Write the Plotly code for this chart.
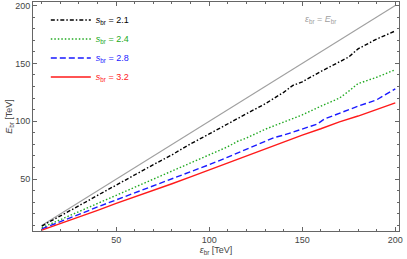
import plotly.graph_objects as go

x_ref = [10, 200]
y_ref = [10, 200]

x_a = [10, 20, 30, 40, 50, 60, 70, 80, 90, 100, 110, 120, 130, 140, 145, 150, 160, 170, 175, 180, 190, 200]
y_a = [9.5, 18, 27, 36, 45, 54, 62.5, 71, 80.5, 89, 98, 106.5, 115, 125, 131, 134, 143, 151, 155.5, 162.5, 171, 178]

x_b = [10, 20, 30, 40, 50, 60, 70, 80, 90, 100, 110, 115, 120, 130, 140, 150, 160, 170, 175, 180, 190, 200]
y_b = [8, 15, 22, 29.5, 36.5, 43.5, 50.5, 57, 64, 71, 78, 82.5, 85.5, 93, 99, 105.5, 113, 120, 126, 132.5, 138, 144.5]

x_c = [10, 20, 30, 40, 50, 60, 70, 80, 90, 100, 110, 120, 127, 130, 135, 140, 150, 158, 162, 170, 180, 190, 195, 200]
y_c = [7, 13, 19.5, 26, 32, 38, 44, 50, 56.5, 62.5, 69, 76, 81, 82.5, 86, 88, 93, 97.5, 102, 107, 113, 118.5, 123, 128]

x_d = [10, 20, 30, 40, 50, 60, 70, 80, 90, 100, 110, 120, 130, 140, 150, 160, 170, 180, 190, 200]
y_d = [6, 11.5, 17.5, 23, 29, 34.5, 40.5, 46, 52, 58, 64, 70, 76.5, 82, 88, 93.5, 99.5, 104.5, 110, 115.8]

labels = ["2.1", "2.4", "2.8", "3.2"]
colors = ["#000000", "#22aa22", "#1a1aff", "#ff1a1a"]
dashes = ["4px,2px,1.5px,2px", "1.5px,2px", "6px,3px", "solid"]

fig = go.Figure()
fig.add_trace(go.Scatter(x=x_ref, y=y_ref, mode="lines", line=dict(color="#a0a0a0", width=1.1),
                         showlegend=False, hoverinfo="skip"))
for xs, ys, lab, col, dsh in zip([x_a, x_b, x_c, x_d], [y_a, y_b, y_c, y_d], labels, colors, dashes):
    fig.add_trace(go.Scatter(
        x=xs, y=ys, mode="lines", line=dict(color=col, width=1.4, dash=dsh),
        name=f'<span style="color:{col}"><i>s</i><sub>br</sub> = {lab}</span>'))

fig.add_annotation(x=160, y=188, xref="x", yref="y", showarrow=False,
                   text="<i>ε</i><sub>br</sub> = <i>E</i><sub>br</sub>",
                   font=dict(size=9, color="#a0a0a0"))

axis_common = dict(showline=True, linecolor="#666666", linewidth=1, mirror="allticks",
                   ticks="inside", ticklen=4, tickcolor="#666666", showgrid=False, zeroline=False,
                   automargin=False,
                   tickfont=dict(size=9, color="#444444"),
                   minor=dict(dtick=10, ticks="inside", ticklen=2, tickcolor="#666666", showgrid=False))

fig.update_layout(
    width=407, height=259,
    margin=dict(l=33, r=8, t=2, b=28, autoexpand=False),
    plot_bgcolor="white", paper_bgcolor="white",
    font=dict(family="Liberation Sans", size=9, color="#444444"),
    showlegend=True,
    legend=dict(x=0.035, y=0.985, xanchor="left", yanchor="top", bgcolor="rgba(0,0,0,0)",
                font=dict(size=9), tracegroupgap=0, itemwidth=40),
    xaxis=dict(range=[5.3, 202], tickvals=[50, 100, 150, 200],
               title=dict(text="<i>ε</i><sub>br</sub> [TeV]", font=dict(size=9), standoff=0),
               **axis_common),
    yaxis=dict(range=[5.2, 203], tickvals=[50, 100, 150, 200],
               title=dict(text="<i>E</i><sub>br</sub> [TeV]", font=dict(size=9), standoff=0),
               **axis_common),
)

fig.write_html("out.html", config={"displayModeBar": False},
               post_script="document.body.style.margin='0';")
